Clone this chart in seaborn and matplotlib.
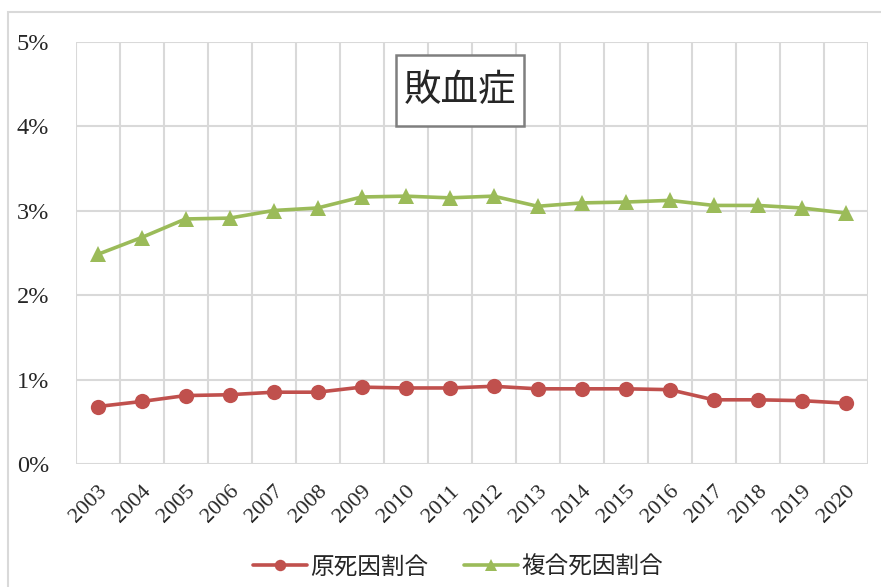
import pandas as pd
import seaborn as sns
import matplotlib.pyplot as plt
from matplotlib.patches import Rectangle

years = [str(y) for y in range(2003, 2021)]
genshiin = [0.68, 0.74, 0.81, 0.82, 0.85, 0.85, 0.91, 0.90, 0.90,
            0.92, 0.89, 0.89, 0.89, 0.88, 0.76, 0.76, 0.75, 0.72]
fukugou = [2.48, 2.68, 2.90, 2.91, 3.00, 3.03, 3.16, 3.17, 3.15,
           3.17, 3.05, 3.09, 3.10, 3.12, 3.06, 3.06, 3.03, 2.97]
series_names = ['原死因割合', '複合死因割合']

df = pd.DataFrame({
    'year_idx': list(range(len(years))) * 2,
    'value': genshiin + fukugou,
    'series': [series_names[0]] * len(years) + [series_names[1]] * len(years),
})

sns.set_style('white')
plt.rcParams['font.family'] = ['Liberation Serif', 'Noto Sans CJK JP', 'DejaVu Sans']
cjk = ['Noto Sans CJK JP', 'DejaVu Sans']

fig = plt.figure(figsize=(8.81, 5.87), dpi=100)
ax = fig.add_axes([0.0857, 0.2095, 0.8992, 0.7198])

# 外枠
fig.patches.append(Rectangle((8 / 881, -0.01), 1.0, 1 - 12 / 587 + 0.01,
                             transform=fig.transFigure, fill=False,
                             edgecolor='#D9D9D9', linewidth=1.5))

palette = {series_names[0]: '#C0504D', series_names[1]: '#9BBB59'}
markers = {series_names[0]: 'o', series_names[1]: '^'}
sns.lineplot(data=df, x='year_idx', y='value', hue='series', style='series',
             palette=palette, markers=markers, dashes=False, linewidth=2.6,
             markersize=11, markeredgewidth=0, ax=ax)

ax.set_xlim(-0.5, len(years) - 0.5)
ax.set_ylim(0, 5)
ax.set_yticks(range(6))
ax.set_yticklabels([f'{i}%' for i in range(6)], fontsize=17.5)
ax.set_xticks(range(len(years)))
ax.set_xticklabels(years, rotation=45, ha='right', rotation_mode='anchor', fontsize=16)
ax.set_xticks([i - 0.5 for i in range(len(years) + 1)], minor=True)
ax.tick_params(axis='x', which='both', length=0, pad=13)
ax.tick_params(axis='y', length=0, pad=19)
ax.grid(True, which='major', axis='y', color='#D9D9D9', linewidth=1.5)
ax.grid(True, which='minor', axis='x', color='#D9D9D9', linewidth=1.5)
ax.set_axisbelow(True)
for s in ax.spines.values():
    s.set_visible(False)
ax.set_xlabel('')
ax.set_ylabel('')

# タイトル枠
ax.add_patch(Rectangle((0.4046, 0.800), 0.1616, 0.168, transform=ax.transAxes,
                       facecolor='white', edgecolor='#7F7F7F', linewidth=1.8, zorder=5))
ax.text(0.4854, 0.885, '敗血症', transform=ax.transAxes, ha='center', va='center',
        fontsize=27, family=cjk, zorder=6)

leg = ax.legend(loc='center', bbox_to_anchor=(458 / 881, 20 / 587),
                bbox_transform=fig.transFigure, ncol=2, frameon=False,
                handlelength=2.3, columnspacing=1.5, handletextpad=0.15,
                markerscale=0.75, prop={'family': cjk, 'size': 17})

plt.savefig('out.png', dpi=100)
